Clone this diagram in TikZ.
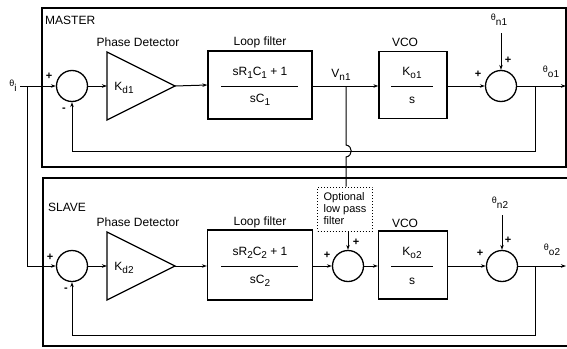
\documentclass[tikz,border=0pt]{standalone}
\usepackage{fontspec}
\setmainfont{Liberation Sans}
\usetikzlibrary{arrows.meta}
\newcommand{\sbs}[1]{\raisebox{-0.45ex}{\fontsize{10}{10}\selectfont #1}}
\newcommand{\thsym}{\raisebox{0.3ex}{\fontsize{9}{9}\selectfont θ}}
\begin{document}
\begin{tikzpicture}[x=1pt,y=-1pt,
  lbl/.style={font=\fontsize{12}{14}\selectfont, inner sep=0pt},
  blk/.style={draw, line width=1.3pt, inner sep=0pt},
  sumc/.style={draw, circle, line width=1.3pt, minimum size=31pt, inner sep=0pt},
  frame/.style={line width=2.6pt},
  sig/.style={line width=1pt},
  arr/.style={sig, -{Stealth[length=5pt,width=3.5pt]}},
  sgn/.style={font=\fontsize{11}{11}\selectfont\bfseries, inner sep=0pt}]
\useasboundingbox (0,0) rectangle (567,348);

% frames
\draw[frame] (42,8) rectangle (566,167);
\draw[frame] (43,178) rectangle (569,346);
\node[lbl, anchor=west] (mlab) at (45,20) {MASTER};
\node[lbl, anchor=west] (slab) at (48,207) {SLAVE};

% ---------- MASTER ----------
\node[sumc] (m1) at (72,86) {};
\draw[line width=1.3pt] (107,52) -- (107,120) -- (175,86) -- cycle;
\coordinate (pd1in) at (107,86);
\coordinate (pd1out) at (175,86);
\node[lbl] (pd1k) at (124,88) {K\sbs{d1}};
\node[lbl] (pd1t) at (138,42) {Phase Detector};
\node[blk, minimum width=104pt, minimum height=68pt] (lf1) at (260,85) {};
\node[lbl] (lf1t) at (260,42) {Loop filter};
\node[lbl] (lf1n) at (260,73) {sR\sbs{1}C\sbs{1} + 1};
\draw[sig] (221,86) -- (298,86);
\node[lbl] (lf1d) at (260,100) {sC\sbs{1}};
\node[blk, minimum width=68pt, minimum height=67pt] (vco1) at (413,85) {};
\node[lbl] (vco1t) at (405,42) {VCO};
\node[lbl] (vco1n) at (412,73) {K\sbs{o1}};
\draw[sig] (391,86) -- (433,86);
\node[lbl] (vco1d) at (412,100) {s};
\node[sumc] (m3) at (501,86) {};
\node[lbl] (thn1) at (499,20) {\thsym\sbs{n1}};
\coordinate (thn1s) at (501,33);
\node[lbl] (tho1) at (551,72) {\thsym\sbs{o1}};
\coordinate (out1) at (566,86);
\node[lbl] (vn1) at (341,75) {V\sbs{n1}};
\node[lbl] (thi) at (13,86) {\thsym\sbs{i}};
\coordinate (in0) at (20,86);
\coordinate (inj) at (27,86);
\coordinate (inj2) at (27,266);
\coordinate (tap1) at (346,86);
\coordinate (fb1a) at (535,86);
\coordinate (fb1b) at (535,151);
\coordinate (fb1c) at (72,151);

\node[sgn] (m1p) at (49,76) {+};
\node[sgn] (m1m) at (64,110) {-};
\node[sgn] (m3p) at (478,74) {+};
\node[sgn] (m3q) at (508,60) {+};

\draw[arr] (in0) -- (m1.west);
\draw[arr] (m1.east) -- (pd1in);
\draw[arr] (pd1out) -- (lf1.west);
\draw[arr] (lf1.east |- tap1) -- (vco1.west |- tap1);
\draw[arr] (vco1.east |- m3) -- (m3.west);
\draw[arr] (thn1s) -- (m3.north);
\draw[arr] (m3.east) -- (out1);
\draw[sig] (fb1a) -- (fb1b) -- (fb1c);
\draw[arr] (fb1c) -- (m1.south);

% input to slave
\draw[sig] (inj) -- (inj2);

% ---------- SLAVE ----------
\node[sumc] (s1) at (72,266) {};
\draw[line width=1.3pt] (107,232) -- (107,300) -- (175,266) -- cycle;
\coordinate (pd2in) at (107,266);
\coordinate (pd2out) at (175,266);
\node[lbl] (pd2k) at (124,268) {K\sbs{d2}};
\node[lbl] (pd2t) at (138,222) {Phase Detector};
\node[blk, minimum width=105pt, minimum height=70pt] (lf2) at (260,265) {};
\node[lbl] (lf2t) at (260,222) {Loop filter};
\node[lbl] (lf2n) at (260,253) {sR\sbs{2}C\sbs{2} + 1};
\draw[sig] (221,266) -- (298,266);
\node[lbl] (lf2d) at (260,281) {sC\sbs{2}};
\node[sumc] (s2) at (348,266) {};
\node[blk, minimum width=69pt, minimum height=68pt] (vco2) at (413,265) {};
\node[lbl] (vco2t) at (405,223) {VCO};
\node[lbl] (vco2n) at (412,253) {K\sbs{o2}};
\draw[sig] (391,266) -- (433,266);
\node[lbl] (vco2d) at (412,281) {s};
\node[sumc] (s3) at (502,266) {};
\node[lbl] (thn2) at (500,203) {\thsym\sbs{n2}};
\coordinate (thn2s) at (502,215);
\node[lbl] (tho2) at (552,250) {\thsym\sbs{o2}};
\coordinate (out2) at (566,266);
\coordinate (fb2a) at (535,266);
\coordinate (fb2b) at (535,335);
\coordinate (fb2c) at (72,335);

\node[draw, dotted, line width=1pt, minimum width=55pt, minimum height=44pt, inner sep=0pt] (lpf) at (345,209) {};
\node[font=\fontsize{11}{12}\selectfont, align=left, inner sep=0pt] (lpft) at (345,209) {Optional\\low pass\\filter};

\node[sgn] (s1p) at (50,257) {+};
\node[sgn] (s1m) at (66,290) {-};
\node[sgn] (s2p) at (327,255) {+};
\node[sgn] (s2q) at (356,242) {+};
\node[sgn] (s3p) at (480,253) {+};
\node[sgn] (s3q) at (508,240) {+};

\draw[arr] (inj2) -- (s1.west);
\draw[arr] (s1.east) -- (pd2in);
\draw[arr] (pd2out) -- (lf2.west |- pd2out);
\draw[arr] (lf2.east |- s2) -- (s2.west);
\draw[arr] (s2.east) -- (vco2.west |- s2);
\draw[arr] (vco2.east |- s3) -- (s3.west);
\draw[arr] (thn2s) -- (s3.north);
\draw[arr] (s3.east) -- (out2);
\draw[sig] (fb2a) -- (fb2b) -- (fb2c);
\draw[arr] (fb2c) -- (s1.south);

% Vn1 tap with bridge over master feedback
\coordinate (br1) at (346,145);
\coordinate (br2) at (346,157);
\draw[sig] (tap1) -- (br1) .. controls (353,146) and (353,156) .. (br2) -- (lpf.north -| tap1);
\draw[arr] (lpf.south -| s2) -- (s2.north);
\end{tikzpicture}
\end{document}
